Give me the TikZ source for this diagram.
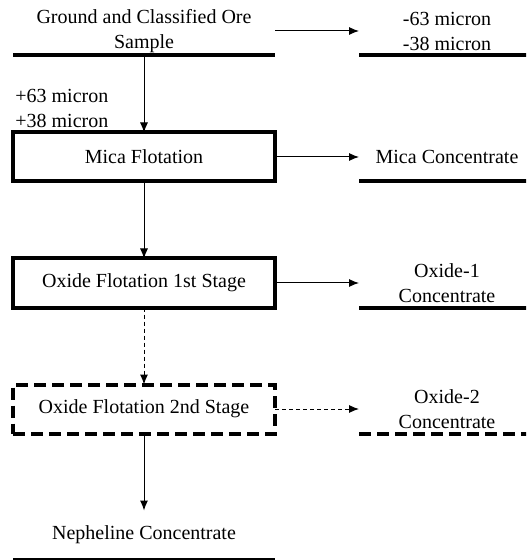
\documentclass[tikz,border=0pt]{standalone}
\usepackage{fontspec}
\setmainfont{Liberation Serif}
\usetikzlibrary{positioning,arrows.meta}

\tikzset{
    stage/.style={draw, line width=2pt, minimum width=131pt, minimum height=24.5pt,
        outer sep=0pt, inner sep=0pt, align=center, font=\fontsize{10}{12.5}\selectfont},
    stagedash/.style={stage, dash pattern=on 6pt off 3pt},
    product/.style={minimum width=#1, minimum height=24.5pt, outer sep=0pt,
        inner sep=0pt, align=center, font=\fontsize{10}{12.5}\selectfont},
    product/.default=88pt,
    note/.style={inner sep=0pt, align=left, font=\fontsize{10}{12.5}\selectfont},
    flow/.style={line width=0.5pt, -{Latex[length=5pt,width=4pt]}},
    flowdash/.style={flow, dash pattern=on 2pt off 1.5pt},
    uline/.style={line width=2pt},
    ulinedash/.style={uline, dash pattern=on 6pt off 3pt}
}

\begin{document}
\begin{tikzpicture}
    \useasboundingbox (0,0) rectangle (263pt,-280pt);
    \clip (0,0) rectangle (263pt,-280pt);

    % left column
    \node[product=131pt] (ore) at (72pt,-15.5pt) {Ground and Classified Ore\\Sample};
    \node[stage, below=38.5pt of ore] (mica) {Mica Flotation};
    \node[stage, below=38.5pt of mica] (oxone) {Oxide Flotation 1st Stage};
    \node[stagedash, below=38.5pt of oxone] (oxtwo) {Oxide Flotation 2nd Stage};
    \node[product=131pt, below=38.5pt of oxtwo] (neph) {Nepheline Concentrate};

    % right column
    \node[product, right=42pt of ore] (fines) {-63 micron\\-38 micron};
    \node[product, right=42pt of mica] (micacon) {Mica Concentrate};
    \node[product, right=42pt of oxone] (oxonecon) {Oxide-1\\Concentrate};
    \node[product, right=42pt of oxtwo] (oxtwocon) {Oxide-2\\Concentrate};

    \node[note, anchor=west] (coarse) at ([xshift=1pt,yshift=-26.5pt]ore.south west)
        {+63 micron\\+38 micron};

    % underlines
    \foreach \n in {ore,fines,micacon,oxonecon,neph}
        \draw[uline] (\n.south west) -- (\n.south east);
    \draw[ulinedash] (oxtwocon.south west) -- (oxtwocon.south east);

    % flows
    \draw[flow] (ore) -- (fines);
    \draw[flow] (ore) -- (mica);
    \draw[flow] (mica) -- (micacon);
    \draw[flow] (mica) -- (oxone);
    \draw[flow] (oxone) -- (oxonecon);
    \draw[flowdash] (oxone) -- (oxtwo);
    \draw[flowdash] (oxtwo) -- (oxtwocon);
    \draw[flow] (oxtwo) -- (neph);
\end{tikzpicture}
\end{document}
